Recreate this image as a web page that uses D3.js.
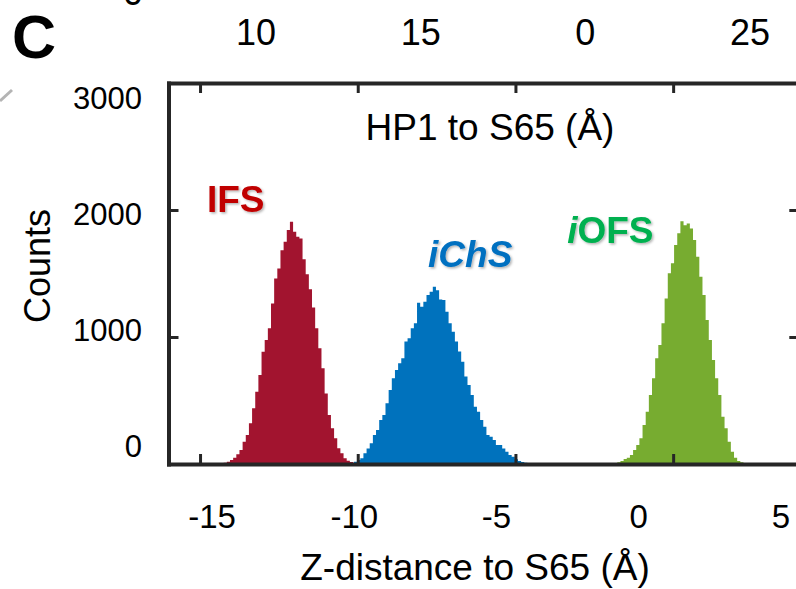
<!DOCTYPE html>
<html>
<head>
<meta charset="utf-8">
<script src="https://cdn.jsdelivr.net/npm/d3@7"></script>
<style>
  body { margin: 0; background: #fff; }
  svg { display: block; font-family: "Liberation Sans", Arial, sans-serif; }
</style>
</head>
<body>
<svg id="chart" width="796" height="589"></svg>
<script>
(function () {
  'use strict';

  // histogram counts, 0.1 Å bins, *Start = left edge of first bin
  var binWidth = 0.1;

  var ifsStart = -14.35;
  var ifsCounts = [5, 10, 18, 31, 50, 76, 110, 176, 228, 320, 438, 569, 700, 884, 976,
    1068, 1264, 1461, 1540, 1684, 1750, 1842, 1907, 1829, 1789, 1776, 1612, 1494,
    1376, 1232, 1068, 911, 753, 556, 386, 281, 202, 124, 85, 45, 26, 16, 10];

  var ichsStart = -10.12;
  var ichsCounts = [18, 31, 45, 84, 123, 163, 228, 268, 346, 386, 478, 583, 675, 740,
    793, 832, 964, 990, 1069, 1108, 1270, 1238, 1278, 1330, 1356, 1396, 1369, 1296,
    1291, 1199, 1108, 1042, 964, 885, 806, 688, 622, 543, 451, 412, 346, 294, 228,
    215, 189, 150, 150, 123, 97, 71, 58, 37, 24, 16, 10, 8, 5, 5];

  var iofsStart = -1.77;
  var iofsCounts = [13, 24, 39, 50, 71, 110, 150, 202, 307, 412, 543, 675, 832, 937,
    1108, 1304, 1501, 1580, 1724, 1816, 1912, 1880, 1893, 1855, 1763, 1632, 1474,
    1330, 1134, 976, 819, 675, 543, 373, 281, 176, 97, 50, 24, 13, 5];

  var xTicks = [-15, -10, -5, 0];
  var xTickLabels = [-15, -10, -5, 0, 5];
  var yTicks = [1000, 2000];
  var yTickLabels = [0, 1000, 2000, 3000];
  var topTickLabels = ["10", "15", "0", "25"];

  var axisColor = "#262626";
  var colors = { ifs: "#A2142F", ichs: "#0072BD", iofs: "#77AC30" };

  var svg = d3.select("#chart");

  // drop shadow for the state labels
  var defs = svg.append("defs");
  defs.append("filter")
      .attr("id", "shadow")
      .attr("x", "-10%").attr("y", "-10%")
      .attr("width", "130%").attr("height", "130%")
    .append("feDropShadow")
      .attr("dx", 1.5).attr("dy", 1.5)
      .attr("stdDeviation", 1)
      .attr("flood-color", "#000")
      .attr("flood-opacity", 0.3);

  // plot box runs past the right edge of the picture
  var x = d3.scaleLinear().domain([-16, 4]).range([168.5, 799.3]);
  var y = d3.scaleLinear().domain([0, 3000]).range([464, 83]);

  // tick labels sit a little apart from the tick marks in the figure
  var xLab = d3.scaleLinear().domain([-15, 5]).range([212, 781]);
  var yLab = d3.scaleLinear().domain([0, 3000]).range([446, 98]);
  var topLab = d3.scalePoint().domain(topTickLabels).range([256, 750]);

  // leftover bits of the neighbouring panel
  svg.append("path")
      .attr("d", "M0,101L12,90")
      .attr("stroke", "#b4b4b4")
      .attr("stroke-width", 3)
      .attr("fill", "none");
  svg.append("text")
      .attr("x", 133).attr("y", 5)
      .attr("text-anchor", "middle")
      .attr("font-size", 36)
      .text("0");

  svg.append("text")
      .attr("x", 12).attr("y", 58)
      .attr("font-size", 61)
      .attr("font-weight", "bold")
      .text("C");

  // histograms as one stepped area each, so no seams between bins
  var area = d3.area()
      .curve(d3.curveStepAfter)
      .x(function (d) { return x(d.x); })
      .y0(y(0))
      .y1(function (d) { return y(d.n); });

  function drawHist(start, counts, color) {
    var pts = counts.map(function (n, i) { return { x: start + i * binWidth, n: n }; });
    pts.push({ x: start + counts.length * binWidth, n: counts[counts.length - 1] });
    svg.append("path")
        .datum(pts)
        .attr("d", area)
        .attr("fill", color);
  }
  drawHist(ifsStart, ifsCounts, colors.ifs);
  drawHist(ichsStart, ichsCounts, colors.ichs);
  drawHist(iofsStart, iofsCounts, colors.iofs);

  // box with inward ticks
  function styleAxis(g) {
    g.select(".domain")
      .attr("stroke", axisColor)
      .attr("stroke-width", 4)
      .attr("stroke-linecap", "square");
    g.selectAll(".tick line")
      .attr("stroke", axisColor)
      .attr("stroke-width", 3);
  }
  svg.append("g")
      .attr("transform", "translate(0," + y(0) + ")")
      .call(d3.axisBottom(x).tickValues(xTicks).tickSizeInner(-10).tickSizeOuter(0).tickFormat(""))
      .call(styleAxis);
  svg.append("g")
      .attr("transform", "translate(0," + y(3000) + ")")
      .call(d3.axisTop(x).tickValues(xTicks).tickSizeInner(-10).tickSizeOuter(0).tickFormat(""))
      .call(styleAxis);
  svg.append("g")
      .attr("transform", "translate(" + x(-16) + ",0)")
      .call(d3.axisLeft(y).tickValues(yTicks).tickSizeInner(-10).tickSizeOuter(0).tickFormat(""))
      .call(styleAxis);
  svg.append("g")
      .attr("transform", "translate(" + x(4) + ",0)")
      .call(d3.axisRight(y).tickValues(yTicks).tickSizeInner(-10).tickSizeOuter(0).tickFormat(""))
      .call(styleAxis);

  // tick labels
  svg.append("g").selectAll("text")
    .data(xTickLabels)
    .enter()
      .append("text")
      .attr("x", function (d) { return xLab(d); })
      .attr("y", 528)
      .attr("text-anchor", "middle")
      .attr("font-size", 33)
      .text(function (d) { return d; });

  svg.append("g").selectAll("text")
    .data(yTickLabels)
    .enter()
      .append("text")
      .attr("x", 142)
      .attr("y", function (d) { return yLab(d); })
      .attr("dy", "0.36em")
      .attr("text-anchor", "end")
      .attr("font-size", 31)
      .text(function (d) { return d; });

  svg.append("g").selectAll("text")
    .data(topTickLabels)
    .enter()
      .append("text")
      .attr("x", function (d) { return topLab(d); })
      .attr("y", 45)
      .attr("text-anchor", "middle")
      .attr("font-size", 36)
      .text(function (d) { return d; });

  // axis titles
  svg.append("text")
      .attr("x", 475).attr("y", 580)
      .attr("text-anchor", "middle")
      .attr("font-size", 37)
      .text("Z-distance to S65 (Å)");

  svg.append("text")
      .attr("transform", "translate(50,266) rotate(-90)")
      .attr("text-anchor", "middle")
      .attr("font-size", 36)
      .text("Counts");

  svg.append("text")
      .attr("x", 490).attr("y", 140)
      .attr("text-anchor", "middle")
      .attr("font-size", 37)
      .text("HP1 to S65 (Å)");

  // state labels
  svg.append("text")
      .attr("x", x(-14.78)).attr("y", y(1985))
      .attr("font-size", 37)
      .attr("font-weight", "bold")
      .attr("fill", "#C00000")
      .attr("filter", "url(#shadow)")
      .text("IFS");

  svg.append("text")
      .attr("x", x(-7.77)).attr("y", y(1551))
      .attr("font-size", 37)
      .attr("font-weight", "bold")
      .attr("font-style", "italic")
      .attr("fill", "#0070C0")
      .attr("filter", "url(#shadow)")
      .text("iChS");

  var iofs = svg.append("text")
      .attr("x", x(-3.36)).attr("y", y(1740))
      .attr("font-size", 37)
      .attr("font-weight", "bold")
      .attr("fill", "#00B050")
      .attr("filter", "url(#shadow)");
  iofs.append("tspan").attr("font-style", "italic").text("i");
  iofs.append("tspan").text("OFS");
}());
</script>
</body>
</html>
